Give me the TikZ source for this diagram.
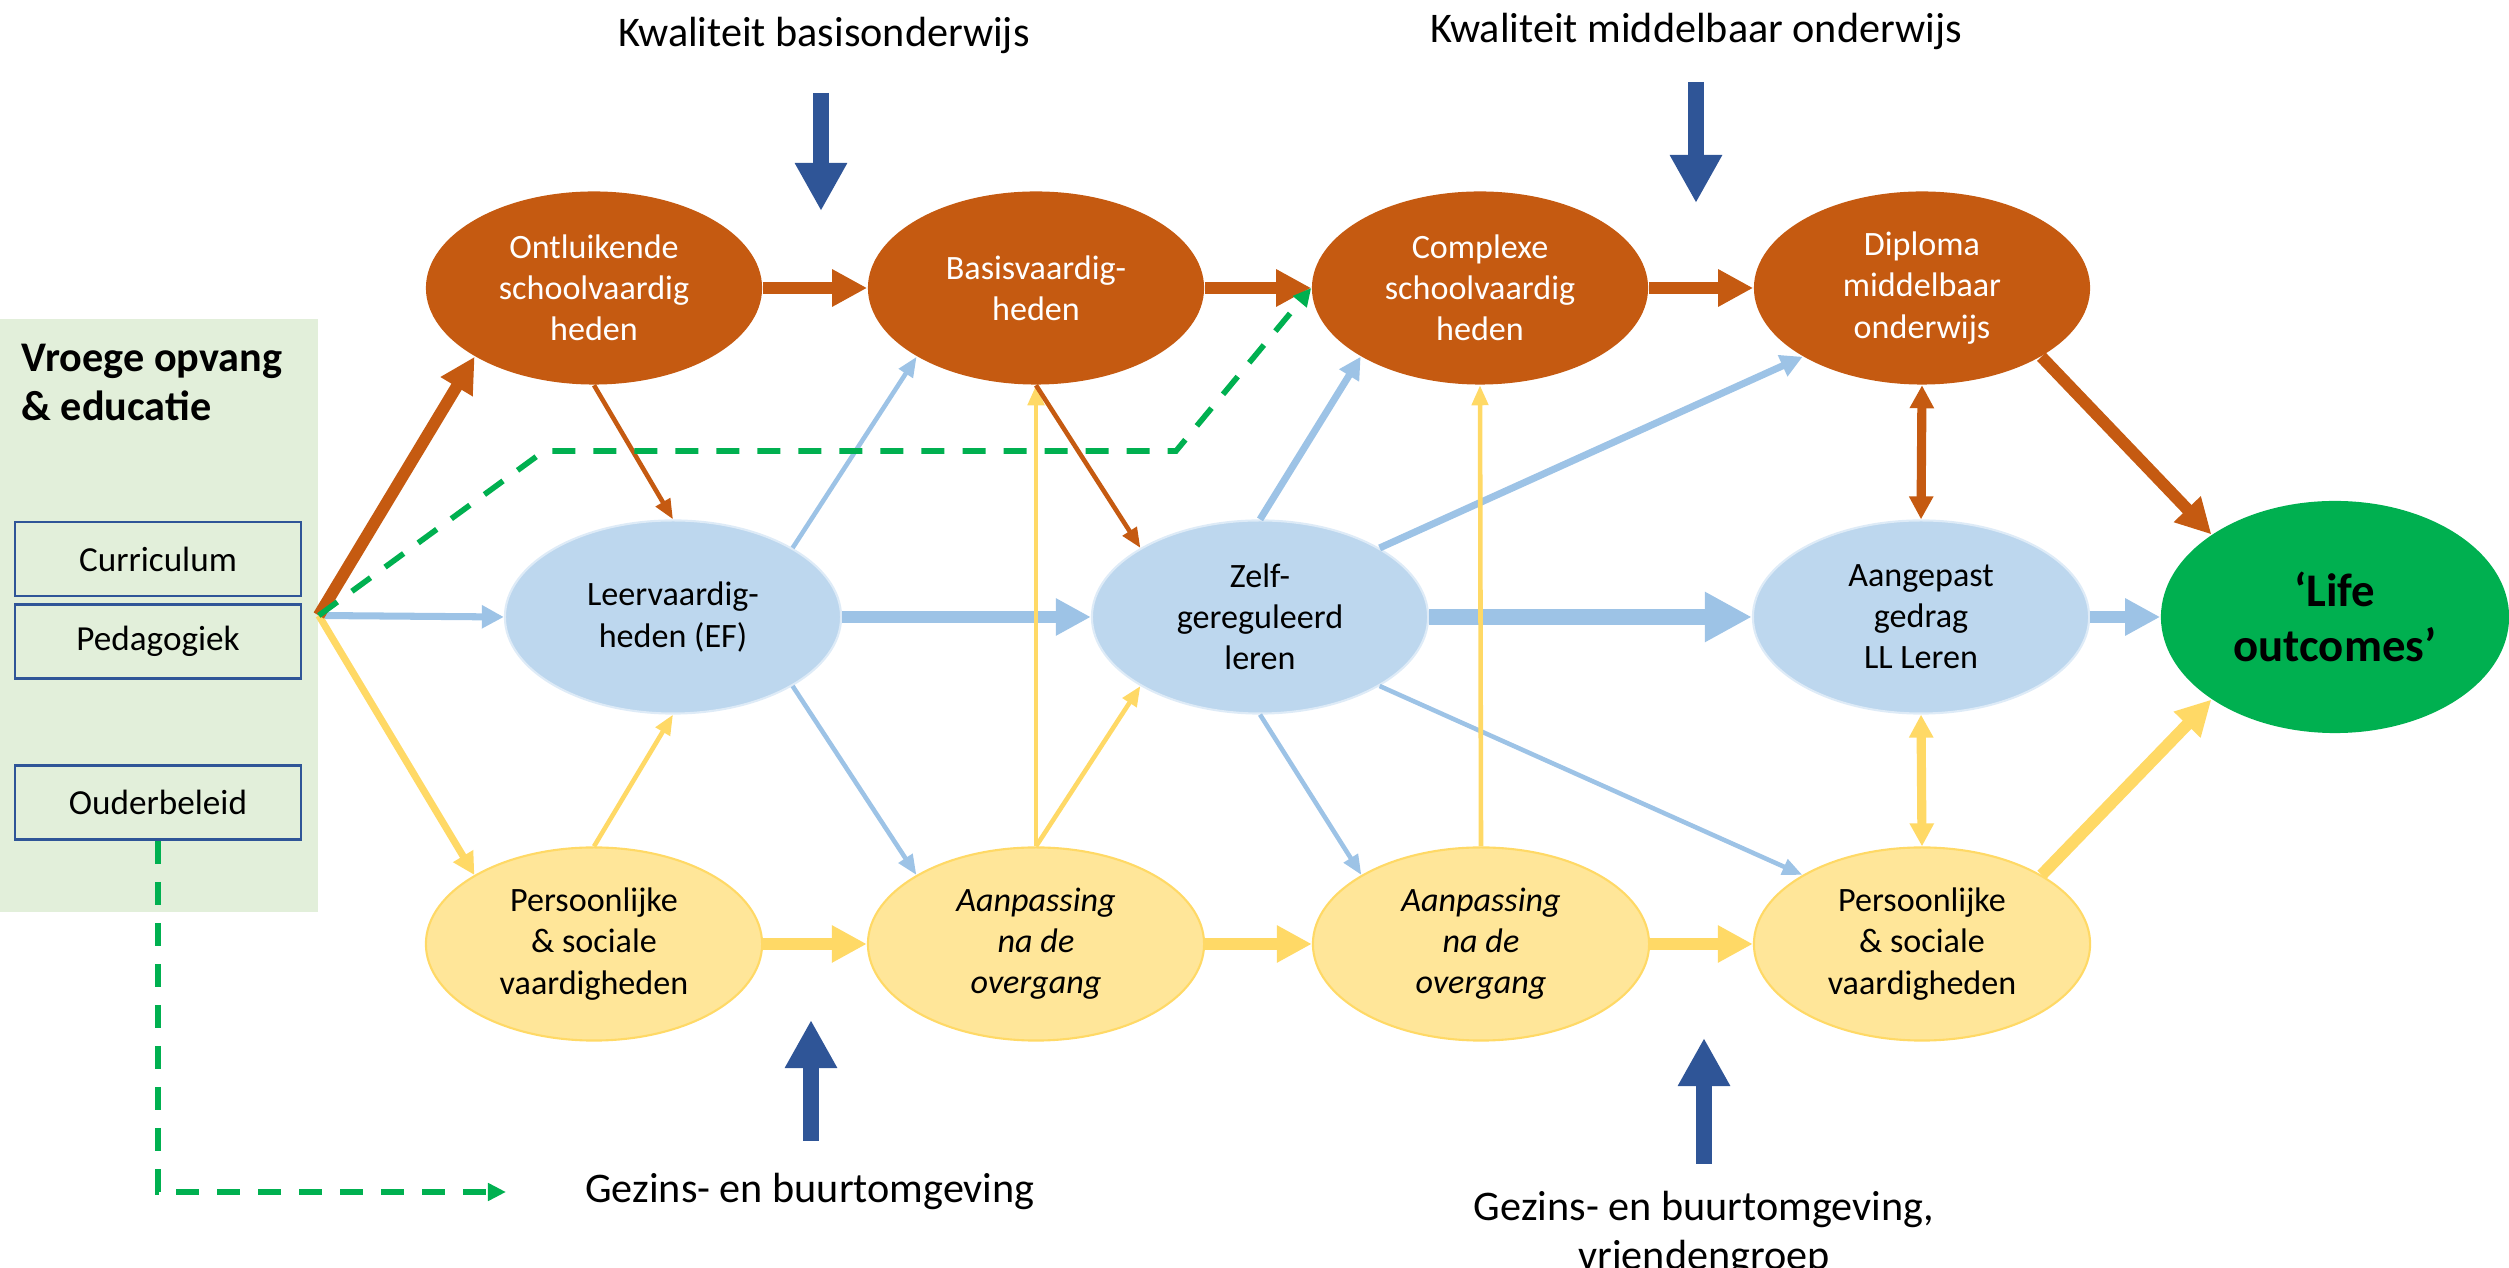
\documentclass[tikz,border=0pt]{standalone}
\usepackage{fontspec}
\setmainfont{Carlito}
\usetikzlibrary{arrows.meta,shapes.geometric,positioning}

\definecolor{oranje}{HTML}{C55A11}
\definecolor{lichtblauw}{HTML}{BDD7EE}
\definecolor{pijlblauw}{HTML}{9DC3E6}
\definecolor{randblauw}{HTML}{DEEBF7}
\definecolor{geel}{HTML}{FFE699}
\definecolor{pijlgeel}{HTML}{FFD966}
\definecolor{groen}{HTML}{00B050}
\definecolor{lichtgroen}{HTML}{E2EFDA}
\definecolor{donkerblauw}{HTML}{2F5597}

\tikzset{
  bol/.style={ellipse, minimum width=3.36cm, minimum height=1.93cm,
    inner sep=0pt, align=center, font=\fontsize{9.7}{11.7}\selectfont},
  bolo/.style={bol, fill=oranje, text=white},
  bolb/.style={bol, fill=lichtblauw, draw=randblauw, line width=0.6pt},
  bolg/.style={bol, fill=geel, draw=pijlgeel, line width=0.6pt},
  cursief/.style={font=\itshape\fontsize{9.7}{11.7}\selectfont},
  vak/.style={draw=donkerblauw, line width=0.75pt, minimum width=2.86cm,
    minimum height=0.74cm, inner sep=0pt, font=\fontsize{10}{12}\selectfont},
  kop/.style={font=\fontsize{12}{14.2}\selectfont, inner sep=0pt},
  dun/.style={line width=1.3pt, -{Triangle[length=0.2cm,width=0.16cm]}},
  middel/.style={line width=2pt, -{Triangle[length=0.22cm,width=0.22cm]}},
  dik/.style={line width=3.4pt, -{Triangle[length=0.35cm,width=0.35cm]}},
  extradik/.style={line width=4.6pt, -{Triangle[length=0.47cm,width=0.47cm]}},
  dubbel/.style={line width=2.6pt,
    {Triangle[length=0.23cm,width=0.23cm]}-{Triangle[length=0.23cm,width=0.23cm]}},
  invloed/.style={donkerblauw, line width=4.3pt,
    -{Triangle[length=0.48cm,width=0.49cm]}},
  stippel/.style={groen, line width=1.6pt, dash pattern=on 0.23cm off 0.18cm,
    -{Triangle[length=0.18cm,width=0.17cm]}}
}

\begin{document}
\begin{tikzpicture}[x=0.01cm, y=-0.01cm]
    \useasboundingbox (0,0) rectangle (2509,1268);

    % vroege opvang
    \node[fill=lichtgroen, minimum width=3.18cm, minimum height=5.93cm,
        inner sep=0pt] (veo) at (159,615.5) {};
    \node[anchor=north west, inner sep=0pt, align=left,
        font=\bfseries\fontsize{12}{14}\selectfont] (titel) at (21,343)
        {Vroege opvang\\\& educatie};
    \node[vak] (curr) at (158,559) {Curriculum};
    \node[vak] (ped) at (158,641.5) {Pedagogiek};
    \node[vak] (oud) at (158,802.5) {Ouderbeleid};

    % ellipsen
    \node[bolo] (ont) at (594,288) {Ontluikende\\schoolvaardig\\heden};
    \node[bolo] (bas) at (1036,288) {Basisvaardig-\\heden};
    \node[bolo] (comp) at (1480,288) {Complexe\\schoolvaardig\\heden};
    \node[bolo] (dipl) at (1922,288) {Diploma\\middelbaar\\onderwijs};
    \node[bolb] (leer) at (673,617) {Leervaardig-\\heden (EF)};
    \node[bolb] (zelf) at (1260,617) {Zelf-\\gereguleerd\\leren};
    \node[bolb] (aang) at (1921,617) {Aangepast\\gedrag\\LL Leren};
    \node[bol, fill=groen, minimum width=3.48cm, minimum height=2.32cm,
        font=\bfseries\fontsize{13.3}{15.6}\selectfont] (life) at (2335,617)
        {`Life\\outcomes'};
    \node[bolg] (pers1) at (594,944) {Persoonlijke\\\& sociale\\vaardigheden};
    \node[bolg, cursief] (aanp1) at (1036,944) {Aanpassing\\na de\\overgang};
    \node[bolg, cursief] (aanp2) at (1481,944) {Aanpassing\\na de\\overgang};
    \node[bolg] (pers2) at (1922,944) {Persoonlijke\\\& sociale\\vaardigheden};

    % invloeden
    \node[kop, anchor=base] (kwbas) at (824,47) {Kwaliteit basisonderwijs};
    \node[kop, anchor=base] (kwmid) at (1696,43) {Kwaliteit middelbaar onderwijs};
    \node[kop, anchor=base] (gez1) at (810,1203) {Gezins- en buurtomgeving};
    \node[kop, anchor=north, align=center] (gez2) at (1704,1190)
        {Gezins- en buurtomgeving,\\vriendengroep};

    \coordinate (kwbasA) at (821,93);
    \coordinate (kwbasB) at (821,211);
    \coordinate (kwmidA) at (1696,82);
    \coordinate (kwmidB) at (1696,203);
    \coordinate (gez1A) at (811,1141);
    \coordinate (gez1B) at (811,1020);
    \coordinate (gez2A) at (1704,1164);
    \coordinate (gez2B) at (1704,1038);
    \draw[invloed] (kwbasA) -- (kwbasB);
    \draw[invloed] (kwmidA) -- (kwmidB);
    \draw[invloed] (gez1A) -- (gez1B);
    \draw[invloed] (gez2A) -- (gez2B);

    \path[pijlblauw]
        (veo.east) edge[middel] (leer.west)
        (leer.east) edge[dik] (zelf.west)
        (zelf.east) edge[extradik] (aang.west)
        (aang.east) edge[dik] (life.west)
        (leer.north east) edge[dun] (bas.south west)
        (leer.south east) edge[dun] (aanp1.north west)
        (zelf.north) edge[middel] (comp.south west)
        (zelf.north east) edge[middel] (dipl.south west)
        (zelf.south) edge[dun] (aanp2.north west)
        (zelf.south east) edge[dun] (pers2.north west)
    ;
    \path[pijlgeel]
        (veo.east) edge[middel] (pers1.north west)
        (pers1.north) edge[dun] (leer.south)
        (pers1.east) edge[dik] (aanp1.west)
        (aanp1.north) edge[dun] (bas.south)
        (aanp1.north) edge[dun] (zelf.south west)
        (aanp1.east) edge[dik] (aanp2.west)
        (aanp2.north) edge[dun] (comp.south)
        (aanp2.east) edge[dik] (pers2.west)
        (pers2.north) edge[dubbel] (aang.south)
        (pers2.north east) edge[dik] (life.south west)
    ;
    \path[oranje]
        (veo.east) edge[dik] (ont.south west)
        (ont.east) edge[dik] (bas.west)
        (bas.east) edge[dik] (comp.west)
        (comp.east) edge[dik] (dipl.west)
        (ont.south) edge[dun] (leer.north)
        (bas.south) edge[dun] (zelf.north west)
        (dipl.south) edge[dubbel] (aang.north)
        (dipl.south east) edge[dik] (life.north west)
    ;

    % stippellijnen
    \coordinate (knik1) at (544,451);
    \coordinate (knik2) at (1176,451);
    \coordinate (gezpunt) at (506,1192);
    \draw[stippel] (veo.east) -- (knik1) -- (knik2) -- (comp.west);
    \draw[stippel] (oud.south) |- (gezpunt);
\end{tikzpicture}
\end{document}
